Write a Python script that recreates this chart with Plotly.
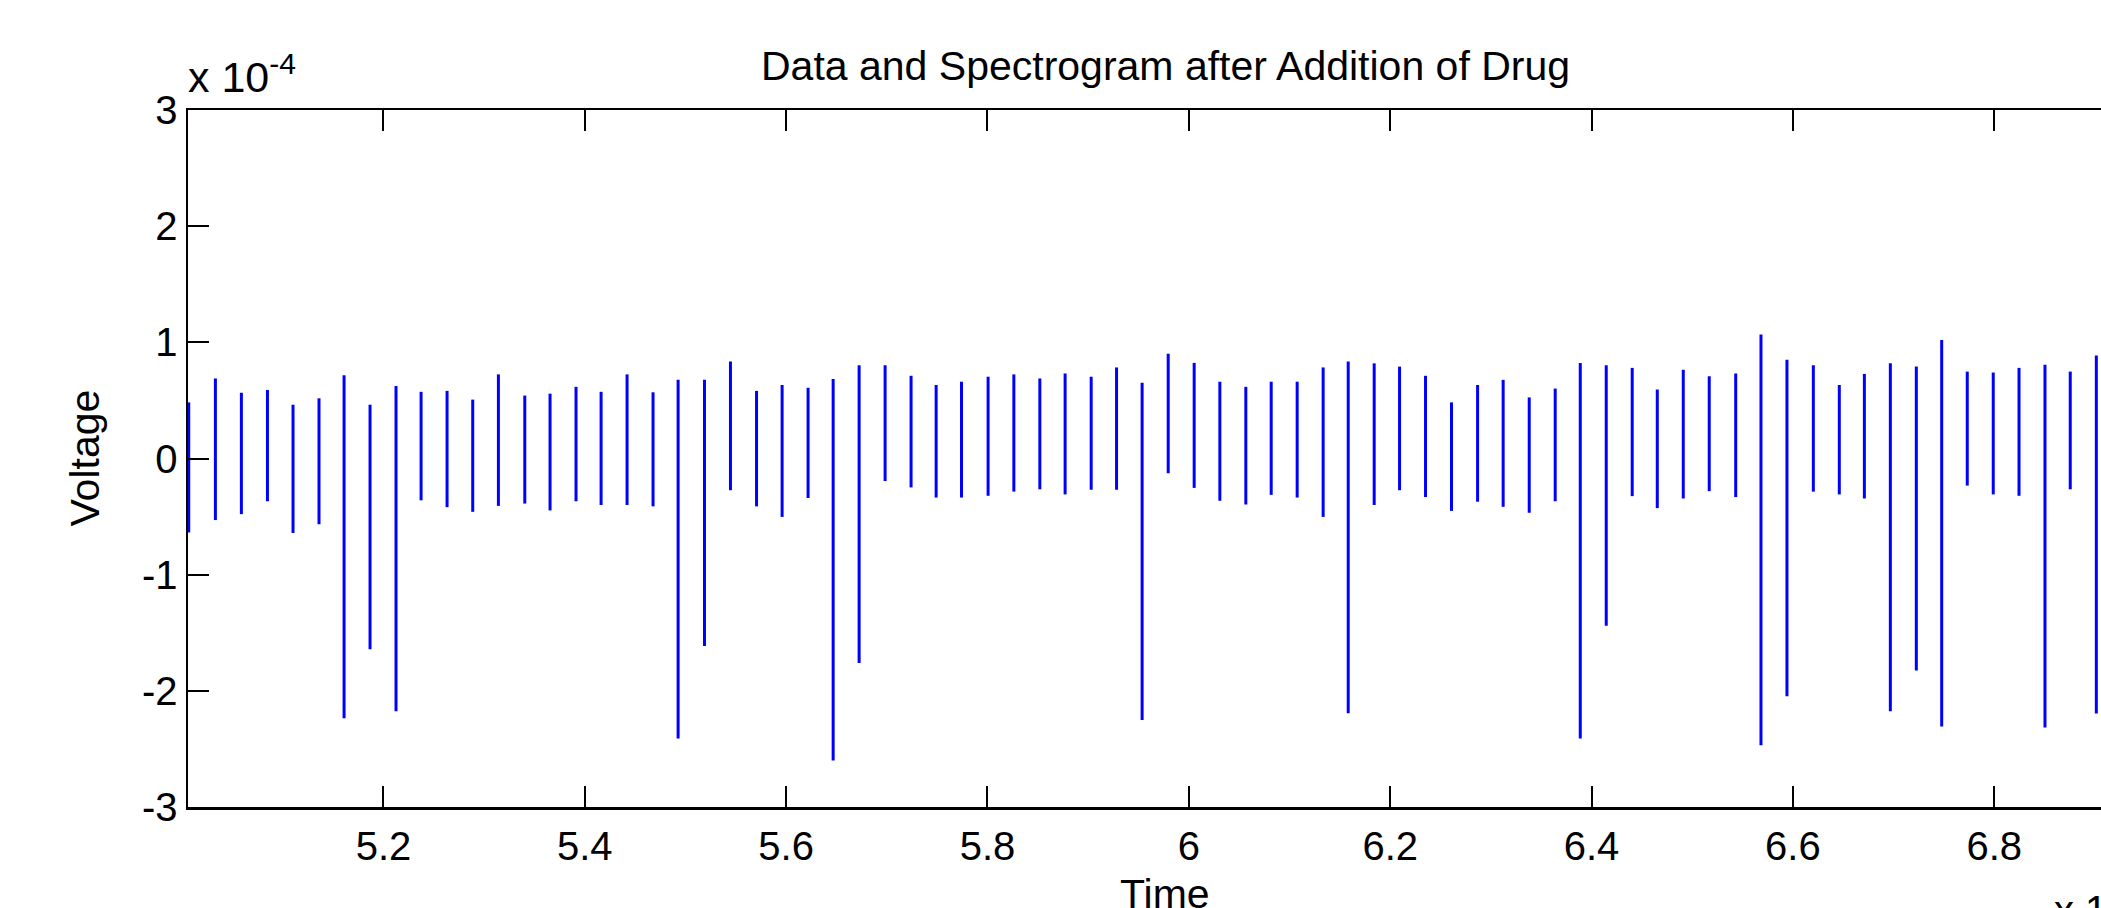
import plotly.graph_objects as go

# Spike times (x 10^4) and their peak / trough voltages (x 10^-4)
spike_time = [5.0066, 5.0331, 5.0589, 5.0848, 5.1102, 5.1360, 5.1609, 5.1867, 5.2125, 5.2374,
              5.2632, 5.2887, 5.3142, 5.3404, 5.3655, 5.3913, 5.4162, 5.4420, 5.4678, 5.4927,
              5.5189, 5.5447, 5.5706, 5.5960, 5.6218, 5.6467, 5.6725, 5.6983, 5.7241, 5.7490,
              5.7742, 5.8006, 5.8262, 5.8520, 5.8771, 5.9030, 5.9282, 5.9536, 5.9795, 6.0053,
              6.0308, 6.0566, 6.0818, 6.1076, 6.1334, 6.1583, 6.1841, 6.2093, 6.2351, 6.2609,
              6.2868, 6.3122, 6.3381, 6.3639, 6.3888, 6.4146, 6.4404, 6.4653, 6.4911, 6.5169,
              6.5432, 6.5683, 6.5941, 6.6203, 6.6461, 6.6710, 6.6968, 6.7226, 6.7478, 6.7732,
              6.7990, 6.8246, 6.8504, 6.8755, 6.9014]
spike_max = [0.483, 0.689, 0.566, 0.590, 0.463, 0.518, 0.716, 0.463, 0.625, 0.574,
             0.582, 0.507, 0.724, 0.542, 0.558, 0.617, 0.574, 0.724, 0.570, 0.677,
             0.677, 0.835, 0.582, 0.633, 0.609, 0.685, 0.803, 0.803, 0.712, 0.633,
             0.661, 0.704, 0.724, 0.689, 0.732, 0.704, 0.784, 0.653, 0.902, 0.823,
             0.661, 0.617, 0.661, 0.661, 0.784, 0.835, 0.819, 0.791, 0.712, 0.483,
             0.633, 0.677, 0.526, 0.602, 0.823, 0.803, 0.780, 0.594, 0.764, 0.708,
             0.732, 1.068, 0.851, 0.803, 0.633, 0.728, 0.819, 0.791, 1.021, 0.748,
             0.740, 0.780, 0.807, 0.748, 0.886]
spike_min = [-0.637, -0.530, -0.479, -0.368, -0.641, -0.566, -2.236, -1.642, -2.176, -0.360,
             -0.419, -0.459, -0.408, -0.388, -0.447, -0.368, -0.400, -0.400, -0.412, -2.410,
             -1.615, -0.273, -0.412, -0.503, -0.340, -2.600, -1.761, -0.194, -0.249, -0.336,
             -0.336, -0.321, -0.285, -0.265, -0.309, -0.269, -0.269, -2.252, -0.127, -0.253,
             -0.364, -0.396, -0.313, -0.336, -0.503, -2.192, -0.400, -0.273, -0.332, -0.451,
             -0.372, -0.416, -0.467, -0.368, -2.410, -1.440, -0.324, -0.427, -0.344, -0.281,
             -0.332, -2.469, -2.046, -0.285, -0.309, -0.344, -2.176, -1.824, -2.307, -0.233,
             -0.309, -0.321, -2.315, -0.265, -2.196]

x_tick_vals = [5.2, 5.4, 5.6, 5.8, 6.0, 6.2, 6.4, 6.6, 6.8]
x_tick_text = ["5.2", "5.4", "5.6", "5.8", "6", "6.2", "6.4", "6.6", "6.8"]
y_tick_vals = [-3, -2, -1, 0, 1, 2, 3]
y_tick_text = ["-3", "-2", "-1", "0", "1", "2", "3"]

xs, ys = [], []
for t, hi, lo in zip(spike_time, spike_max, spike_min):
    xs += [t, t, None]
    ys += [hi, lo, None]

FONT = "Liberation Sans, Arial, Helvetica, sans-serif"
W, H = 2101, 908
L, T, B = 188, 110, 101

fig = go.Figure()
fig.add_trace(go.Scatter(x=xs, y=ys, mode="lines",
                         line=dict(color="rgb(0,0,255)", width=3),
                         connectgaps=False, showlegend=False, hoverinfo="skip"))

axis_common = dict(showgrid=False, zeroline=False, showline=True, linecolor="black",
                   linewidth=2.5, ticks="inside", ticklen=21, tickwidth=2,
                   tickcolor="black", tickfont=dict(family=FONT, size=40, color="black"))

fig.update_xaxes(range=[5.00588, 6.90604], tickvals=x_tick_vals, ticktext=x_tick_text,
                 mirror="ticks", ticklabelstandoff=2, **axis_common)
fig.update_yaxes(range=[-3, 3], tickvals=y_tick_vals, ticktext=y_tick_text,
                 mirror=False, ticklabelstandoff=0, **axis_common)

pw = W - L
ph = H - T - B
def px(x):
    return (x - L) / pw
def py(y):
    return (H - B - y) / ph

annos = [
    dict(text="Data and Spectrogram after Addition of Drug", x=px(1165), y=py(66),
         xanchor="center", yanchor="middle", font=dict(size=41)),
    dict(text="x 10<sup>-4</sup>", x=px(186), y=py(74), xanchor="left", yanchor="middle",
         font=dict(size=43)),
    dict(text="Voltage", x=px(84), y=0.5, xanchor="center", yanchor="middle",
         textangle=-90, font=dict(size=41)),
    dict(text="Time", x=px(1165), y=py(894), xanchor="center", yanchor="middle",
         font=dict(size=41)),
    dict(text="x 10<sup>4</sup>", x=px(2052), y=py(880), xanchor="left", yanchor="top",
         font=dict(size=40)),
]
for a in annos:
    a.update(xref="paper", yref="paper", showarrow=False)
    a["font"].update(family=FONT, color="black")

fig.update_layout(width=W, height=H, margin=dict(l=L, r=0, t=T, b=B, pad=0),
                  paper_bgcolor="white", plot_bgcolor="white", annotations=annos,
                  font=dict(family=FONT, color="black"))

fig.write_html("out.html", config={"displayModeBar": False, "staticPlot": True},
               post_script="document.body.style.margin='0';document.body.style.overflow='hidden';")
